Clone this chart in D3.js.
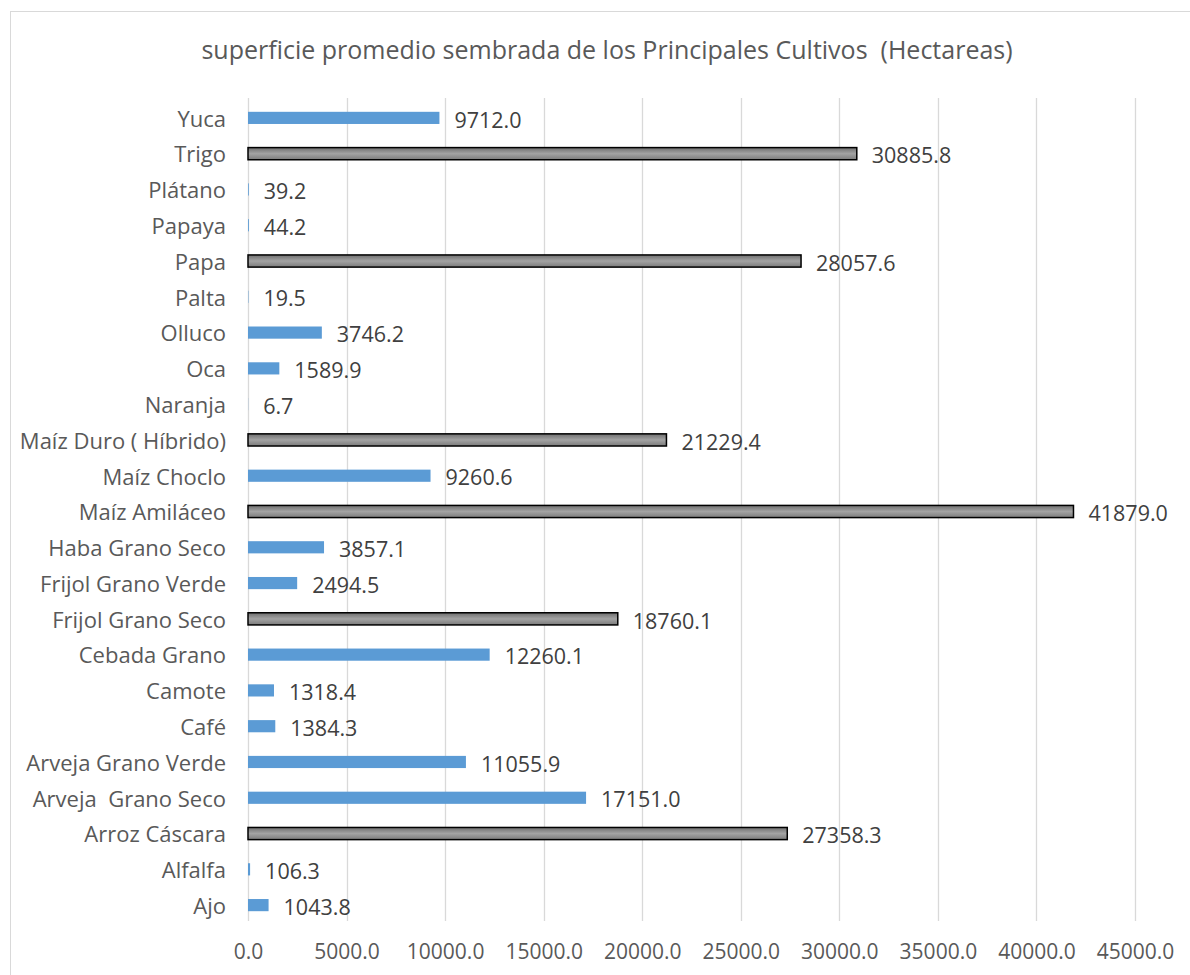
<!DOCTYPE html>
<html>
<head>
<meta charset="utf-8">
<script src="https://cdn.jsdelivr.net/npm/d3@7"></script>
<style>
  body { margin: 0; background: #fff; }
  text { font-family: "Open Sans", sans-serif; white-space: pre; }
</style>
</head>
<body>
<div id="chart"></div>
<script>
// data, top to bottom as shown
var categories = ["Yuca", "Trigo", "Plátano", "Papaya", "Papa", "Palta", "Olluco", "Oca", "Naranja",
    "Maíz Duro ( Híbrido)", "Maíz Choclo", "Maíz Amiláceo", "Haba Grano Seco", "Frijol Grano Verde",
    "Frijol Grano Seco", "Cebada Grano", "Camote", "Café", "Arveja Grano Verde", "Arveja  Grano Seco",
    "Arroz Cáscara", "Alfalfa", "Ajo"];
var values = [9712.0, 30885.8, 39.2, 44.2, 28057.6, 19.5, 3746.2, 1589.9, 6.7,
    21229.4, 9260.6, 41879.0, 3857.1, 2494.5,
    18760.1, 12260.1, 1318.4, 1384.3, 11055.9, 17151.0,
    27358.3, 106.3, 1043.8];
// which bars are highlighted in gray
var highlighted = ["Trigo", "Papa", "Maíz Duro ( Híbrido)", "Maíz Amiláceo", "Frijol Grano Seco", "Arroz Cáscara"];
var xTicks = [0, 5000, 10000, 15000, 20000, 25000, 30000, 35000, 40000, 45000];
var title = "superficie promedio sembrada de los Principales Cultivos  (Hectareas)";

var data = categories.map(function(c, i) { return {name: c, value: values[i]}; });

var W = 1190, H = 975;
var plot = {left: 248, right: 1135, top: 100, bottom: 923};

var svg = d3.select("#chart").append("svg")
    .attr("width", W)
    .attr("height", H);

// outer chart frame
svg.append("rect")
    .attr("x", 10.5).attr("y", 11.5)
    .attr("width", W + 20).attr("height", H + 20)
    .attr("fill", "#fff")
    .attr("stroke", "#d9d9d9");

var defs = svg.append("defs");
var grad = defs.append("linearGradient")
    .attr("id", "grayGrad")
    .attr("x1", 0).attr("y1", 0).attr("x2", 0).attr("y2", 1);
grad.append("stop").attr("offset", "0%").attr("stop-color", "#6f6f6f");
grad.append("stop").attr("offset", "50%").attr("stop-color", "#a3a3a3");
grad.append("stop").attr("offset", "100%").attr("stop-color", "#7b7b7b");

var x = d3.scaleLinear().domain([0, 45000]).range([plot.left, plot.right]);
var y = d3.scaleBand().domain(categories).range([plot.top, plot.bottom]).paddingInner(0.66).paddingOuter(0.33);

// title
svg.append("text")
    .attr("x", 607).attr("y", 59)
    .attr("text-anchor", "middle")
    .attr("fill", "#595959")
    .style("font-size", "25px")
    .text(title);

// gridlines
svg.append("g")
    .selectAll("line")
    .data(xTicks)
    .enter().append("line")
    .attr("x1", function(d) { return Math.round(x(d)) + 0.5; })
    .attr("x2", function(d) { return Math.round(x(d)) + 0.5; })
    .attr("y1", plot.top - 2)
    .attr("y2", plot.bottom - 2)
    .attr("stroke", "#d9d9d9")
    .attr("stroke-width", 1.3);

// x axis labels
var xAxis = svg.append("g")
    .attr("transform", "translate(0," + (plot.bottom + 18) + ")")
    .call(d3.axisBottom(x).tickValues(xTicks).tickSize(0).tickFormat(d3.format(".1f")));
xAxis.select(".domain").remove();
xAxis.selectAll("text")
    .attr("fill", "#595959")
    .style("font-size", "21px")
    .style("font-family", "'Open Sans', sans-serif");

// category labels
var yAxis = svg.append("g")
    .attr("transform", "translate(" + (plot.left - 22) + ",0)")
    .call(d3.axisLeft(y).tickSize(0).tickPadding(0));
yAxis.select(".domain").remove();
yAxis.selectAll("text")
    .attr("fill", "#595959")
    .attr("dy", "0.4em")
    .style("font-size", "22px")
    .style("font-family", "'Open Sans', sans-serif");

// bars
svg.append("g")
    .selectAll("rect")
    .data(data)
    .enter().append("rect")
    .attr("x", x(0))
    .attr("y", function(d) { return y(d.name); })
    .attr("height", y.bandwidth())
    .attr("width", function(d) { return x(d.value) - x(0); })
    .attr("fill", function(d) { return highlighted.indexOf(d.name) >= 0 ? "url(#grayGrad)" : "#5b9bd5"; })
    .attr("stroke", function(d) { return highlighted.indexOf(d.name) >= 0 ? "#000" : "none"; })
    .attr("stroke-width", 1.5);

// value labels
svg.append("g")
    .selectAll("text")
    .data(data)
    .enter().append("text")
    .attr("x", function(d) { return x(d.value) + 15; })
    .attr("y", function(d) { return y(d.name) + y.bandwidth() / 2; })
    .attr("dy", "0.45em")
    .attr("fill", "#404040")
    .style("font-size", "21.5px")
    .text(function(d) { return d.value.toFixed(1); });
</script>
</body>
</html>
